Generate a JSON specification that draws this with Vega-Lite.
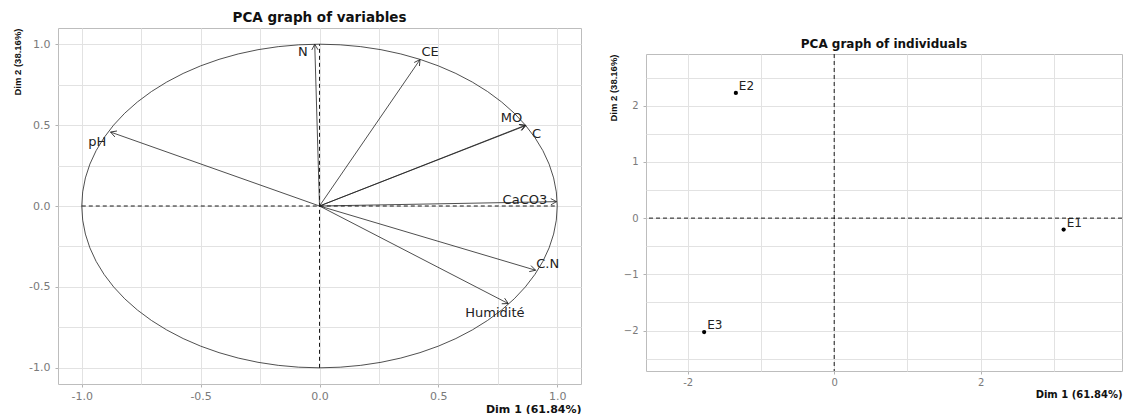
{
  "$schema": "https://vega.github.io/schema/vega-lite/v6.json",
  "padding": {"left": 12, "top": 10, "right": 5, "bottom": 2},
  "spacing": 25,
  "datasets": {
    "circle": [
      {"a":0,"cx":1,"cy":0},{"a":5,"cx":0.9962,"cy":0.0872},{"a":10,"cx":0.9848,"cy":0.1736},{"a":15,"cx":0.9659,"cy":0.2588},
      {"a":20,"cx":0.9397,"cy":0.342},{"a":25,"cx":0.9063,"cy":0.4226},{"a":30,"cx":0.866,"cy":0.5},{"a":35,"cx":0.8192,"cy":0.5736},
      {"a":40,"cx":0.766,"cy":0.6428},{"a":45,"cx":0.7071,"cy":0.7071},{"a":50,"cx":0.6428,"cy":0.766},{"a":55,"cx":0.5736,"cy":0.8192},
      {"a":60,"cx":0.5,"cy":0.866},{"a":65,"cx":0.4226,"cy":0.9063},{"a":70,"cx":0.342,"cy":0.9397},{"a":75,"cx":0.2588,"cy":0.9659},
      {"a":80,"cx":0.1736,"cy":0.9848},{"a":85,"cx":0.0872,"cy":0.9962},{"a":90,"cx":0,"cy":1},{"a":95,"cx":-0.0872,"cy":0.9962},
      {"a":100,"cx":-0.1736,"cy":0.9848},{"a":105,"cx":-0.2588,"cy":0.9659},{"a":110,"cx":-0.342,"cy":0.9397},{"a":115,"cx":-0.4226,"cy":0.9063},
      {"a":120,"cx":-0.5,"cy":0.866},{"a":125,"cx":-0.5736,"cy":0.8192},{"a":130,"cx":-0.6428,"cy":0.766},{"a":135,"cx":-0.7071,"cy":0.7071},
      {"a":140,"cx":-0.766,"cy":0.6428},{"a":145,"cx":-0.8192,"cy":0.5736},{"a":150,"cx":-0.866,"cy":0.5},{"a":155,"cx":-0.9063,"cy":0.4226},
      {"a":160,"cx":-0.9397,"cy":0.342},{"a":165,"cx":-0.9659,"cy":0.2588},{"a":170,"cx":-0.9848,"cy":0.1736},{"a":175,"cx":-0.9962,"cy":0.0872},
      {"a":180,"cx":-1,"cy":0},{"a":185,"cx":-0.9962,"cy":-0.0872},{"a":190,"cx":-0.9848,"cy":-0.1736},{"a":195,"cx":-0.9659,"cy":-0.2588},
      {"a":200,"cx":-0.9397,"cy":-0.342},{"a":205,"cx":-0.9063,"cy":-0.4226},{"a":210,"cx":-0.866,"cy":-0.5},{"a":215,"cx":-0.8192,"cy":-0.5736},
      {"a":220,"cx":-0.766,"cy":-0.6428},{"a":225,"cx":-0.7071,"cy":-0.7071},{"a":230,"cx":-0.6428,"cy":-0.766},{"a":235,"cx":-0.5736,"cy":-0.8192},
      {"a":240,"cx":-0.5,"cy":-0.866},{"a":245,"cx":-0.4226,"cy":-0.9063},{"a":250,"cx":-0.342,"cy":-0.9397},{"a":255,"cx":-0.2588,"cy":-0.9659},
      {"a":260,"cx":-0.1736,"cy":-0.9848},{"a":265,"cx":-0.0872,"cy":-0.9962},{"a":270,"cx":0,"cy":-1},{"a":275,"cx":0.0872,"cy":-0.9962},
      {"a":280,"cx":0.1736,"cy":-0.9848},{"a":285,"cx":0.2588,"cy":-0.9659},{"a":290,"cx":0.342,"cy":-0.9397},{"a":295,"cx":0.4226,"cy":-0.9063},
      {"a":300,"cx":0.5,"cy":-0.866},{"a":305,"cx":0.5736,"cy":-0.8192},{"a":310,"cx":0.6428,"cy":-0.766},{"a":315,"cx":0.7071,"cy":-0.7071},
      {"a":320,"cx":0.766,"cy":-0.6428},{"a":325,"cx":0.8192,"cy":-0.5736},{"a":330,"cx":0.866,"cy":-0.5},{"a":335,"cx":0.9063,"cy":-0.4226},
      {"a":340,"cx":0.9397,"cy":-0.342},{"a":345,"cx":0.9659,"cy":-0.2588},{"a":350,"cx":0.9848,"cy":-0.1736},{"a":355,"cx":0.9962,"cy":-0.0872},
      {"a":360,"cx":1,"cy":0}
    ],
    "vars": [
      {"name":"N","x":-0.02,"y":1.0,"lx":-0.07,"ly":0.95},
      {"name":"pH","x":-0.879,"y":0.457,"lx":-0.935,"ly":0.395},
      {"name":"CE","x":0.423,"y":0.905,"lx":0.465,"ly":0.952},
      {"name":"MO","x":0.868,"y":0.497,"lx":0.808,"ly":0.545},
      {"name":"C","x":0.866,"y":0.499,"lx":0.913,"ly":0.446},
      {"name":"CaCO3","x":0.997,"y":0.027,"lx":0.864,"ly":0.035},
      {"name":"C.N","x":0.909,"y":-0.397,"lx":0.96,"ly":-0.356},
      {"name":"Humidité","x":0.794,"y":-0.603,"lx":0.738,"ly":-0.659}
    ],
    "inds": [
      {"name":"E1","x":3.133,"y":-0.203},
      {"name":"E2","x":-1.343,"y":2.228},
      {"name":"E3","x":-1.776,"y":-2.027}
    ]
  },
  "hconcat": [
    {
      "width": 523,
      "height": 356,
      "title": {"text": "PCA graph of variables", "fontSize": 13.5, "offset": 4},
      "layer": [
        {
          "data": {"name": "circle"},
          "mark": {"type": "line", "stroke": "#3c3c3c", "strokeWidth": 0.9},
          "encoding": {
            "x": {
              "field": "cx", "type": "quantitative",
              "scale": {"domain": [-1.1, 1.1], "nice": false, "zero": false},
              "axis": {
                "title": "Dim 1 (61.84%)",
                "values": [-1, -0.75, -0.5, -0.25, 0, 0.25, 0.5, 0.75, 1],
                "labelExpr": "abs(datum.value*2 - round(datum.value*2)) < 0.001 ? (datum.value < 0 ? '-' + format(-datum.value, '.1f') : format(datum.value, '.1f')) : ''",
                "tickOpacity": {"condition": {"test": "abs(datum.value*2 - round(datum.value*2)) > 0.001", "value": 0}, "value": 1},
                "labelOverlap": false,
                "labelFontSize": 11,
                "labelPadding": 3,
                "titleFontSize": 11
              }
            },
            "y": {
              "field": "cy", "type": "quantitative",
              "scale": {"domain": [-1.1, 1.1], "nice": false, "zero": false},
              "axis": {
                "title": "Dim 2 (38.16%)",
                "values": [-1, -0.75, -0.5, -0.25, 0, 0.25, 0.5, 0.75, 1],
                "labelExpr": "abs(datum.value*2 - round(datum.value*2)) < 0.001 ? (datum.value < 0 ? '-' + format(-datum.value, '.1f') : format(datum.value, '.1f')) : ''",
                "tickOpacity": {"condition": {"test": "abs(datum.value*2 - round(datum.value*2)) > 0.001", "value": 0}, "value": 1},
                "labelOverlap": false,
                "labelFontSize": 11,
                "labelPadding": 5,
                "titleFont": "Liberation Sans",
                "titleFontSize": 9.5,
                "titlePadding": 6
              }
            },
            "order": {"field": "a", "type": "quantitative"}
          }
        },
        {
          "data": {"values": [{}]},
          "mark": {"type": "rule", "color": "#000", "strokeDash": [4, 3], "strokeWidth": 0.9},
          "encoding": {"x": {"datum": -1, "type": "quantitative"}, "x2": {"datum": 1}, "y": {"datum": 0, "type": "quantitative"}}
        },
        {
          "data": {"values": [{}]},
          "mark": {"type": "rule", "color": "#000", "strokeDash": [4, 3], "strokeWidth": 0.9},
          "encoding": {"y": {"datum": -1, "type": "quantitative"}, "y2": {"datum": 1}, "x": {"datum": 0, "type": "quantitative"}}
        },
        {
          "data": {"name": "vars"},
          "mark": {"type": "rule", "color": "#222", "strokeWidth": 0.8},
          "encoding": {
            "x": {"field": "x", "type": "quantitative"},
            "y": {"field": "y", "type": "quantitative"},
            "x2": {"datum": 0}, "y2": {"datum": 0}
          }
        },
        {
          "data": {"name": "vars"},
          "transform": [{"calculate": "atan2(datum.x * 523, datum.y * 356) * 180 / PI", "as": "heading"}],
          "mark": {"type": "point", "shape": "M -0.55 1 L 0 0 L 0.55 1", "size": 130, "filled": false, "stroke": "#222", "strokeWidth": 0.8, "opacity": 1},
          "encoding": {
            "x": {"field": "x", "type": "quantitative"},
            "y": {"field": "y", "type": "quantitative"},
            "angle": {"field": "heading", "type": "quantitative", "scale": null}
          }
        },
        {
          "data": {"name": "vars"},
          "mark": {"type": "text", "font": "DejaVu Sans", "fontSize": 13, "color": "#222", "align": "center", "baseline": "middle"},
          "encoding": {
            "x": {"field": "lx", "type": "quantitative"},
            "y": {"field": "ly", "type": "quantitative"},
            "text": {"field": "name", "type": "nominal"}
          }
        }
      ]
    },
    {
      "spacing": 0,
      "vconcat": [
        {
          "width": 476,
          "height": 7,
          "view": {"stroke": null},
          "data": {"values": [{}]},
          "mark": {"type": "text", "text": "", "opacity": 0},
          "encoding": {}
        },
        {
          "width": 476,
          "height": 317,
          "title": {"text": "PCA graph of individuals", "fontSize": 12, "offset": 3},
          "resolve": {"axis": {"y": "independent"}},
          "layer": [
            {
              "data": {"name": "inds"},
              "mark": {"type": "point", "filled": true, "color": "#000", "size": 18, "opacity": 1},
              "encoding": {
                "x": {
                  "field": "x", "type": "quantitative",
                  "scale": {"domain": [-2.57, 3.93], "nice": false, "zero": false},
                  "axis": {
                    "title": "Dim 1 (61.84%)",
                    "values": [-2, -1, 0, 1, 2, 3],
                    "labelExpr": "abs(datum.value/2 - round(datum.value/2)) < 0.001 ? (datum.value < 0 ? '-' + format(-datum.value, 'd') : format(datum.value, 'd')) : ''",
                    "tickOpacity": {"condition": {"test": "abs(datum.value/2 - round(datum.value/2)) > 0.001", "value": 0}, "value": 1},
                    "labelOverlap": false,
                    "labelFontSize": 10,
                    "labelPadding": 3,
                    "titleFontSize": 10
                  }
                },
                "y": {
                  "field": "y", "type": "quantitative",
                  "scale": {"domain": [-2.72, 2.92], "nice": false, "zero": false},
                  "axis": {
                    "orient": "left",
                    "title": null,
                    "values": [-2.5, -2, -1.5, -1, -0.5, 0, 0.5, 1, 1.5, 2, 2.5],
                    "grid": true,
                    "labels": false,
                    "ticks": false
                  }
                }
              }
            },
            {
              "data": {"values": [{}]},
              "mark": {"type": "rule", "color": "#000", "strokeDash": [4, 3], "strokeWidth": 0.9},
              "encoding": {
                "y": {
                  "datum": 0, "type": "quantitative",
                  "axis": {
                    "orient": "left",
                    "title": "Dim 2 (38.16%)",
                    "values": [-2, -1, 0, 1, 2],
                    "format": "d",
                    "grid": false,
                    "labelOverlap": false,
                    "labelFontSize": 10,
                    "labelPadding": 5,
                    "titleFont": "Liberation Sans",
                    "titleFontSize": 9.5,
                    "titlePadding": 5
                  }
                }
              }
            },
            {
              "data": {"values": [{}]},
              "mark": {"type": "rule", "color": "#000", "strokeDash": [4, 3], "strokeWidth": 0.9},
              "encoding": {"x": {"datum": 0, "type": "quantitative"}}
            },
            {
              "data": {"name": "inds"},
              "mark": {"type": "text", "font": "DejaVu Sans", "fontSize": 12, "color": "#222", "align": "left", "baseline": "middle", "dx": 3, "dy": -7},
              "encoding": {
                "x": {"field": "x", "type": "quantitative"},
                "y": {"field": "y", "type": "quantitative", "axis": null},
                "text": {"field": "name", "type": "nominal"}
              }
            }
          ]
        }
      ]
    }
  ],
  "config": {
    "view": {"stroke": "#bdbdbd", "strokeWidth": 1},
    "axis": {
      "domain": false,
      "gridColor": "#e2e2e2",
      "gridWidth": 1,
      "tickColor": "#b3b3b3",
      "tickSize": 3,
      "labelPadding": 2,
      "labelOverlap": false,
      "labelColor": "#7a7a7a",
      "labelFont": "DejaVu Sans",
      "titleFont": "DejaVu Sans",
      "titleFontWeight": "bold",
      "titleColor": "#111",
      "titleAnchor": "end",
      "titlePadding": 2
    },
    "title": {"font": "DejaVu Sans", "fontWeight": "bold", "color": "#111", "anchor": "middle"}
  }
}
